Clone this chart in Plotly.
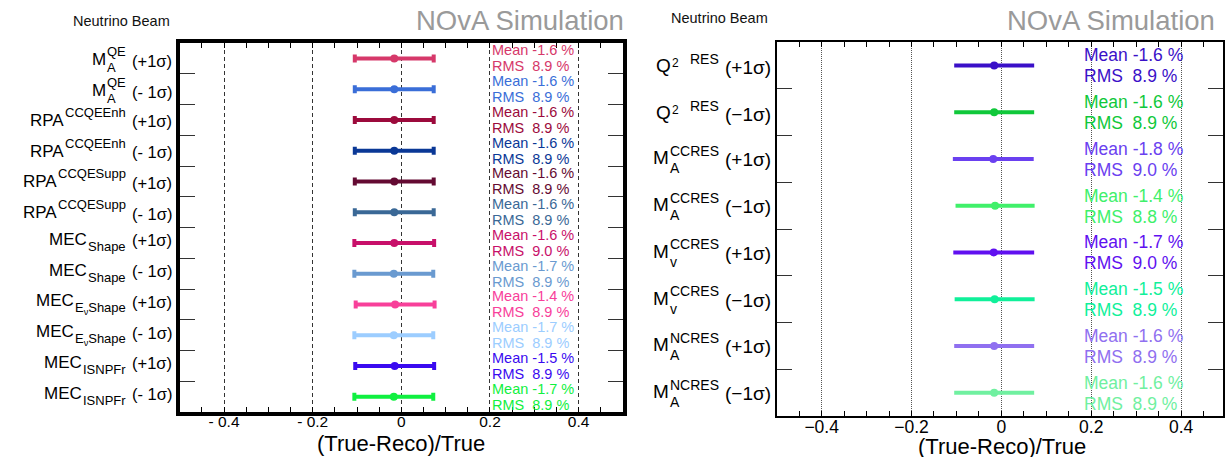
import re
import plotly.graph_objects as go

W, H = 1225, 457
FONT = "Liberation Sans, Arial, Helvetica, sans-serif"

# ---- left panel: CCQE / MEC knobs ----
left_base = ["M", "M", "RPA", "RPA", "RPA", "RPA", "MEC", "MEC", "MEC", "MEC", "MEC", "MEC"]
left_sup = ["QE", "QE", "CCQEEnh", "CCQEEnh", "CCQESupp", "CCQESupp", "", "", "", "", "", ""]
left_sub = ["A", "A", "", "", "", "", "Shape", "Shape",
            "E<sub>ν</sub>Shape", "E<sub>ν</sub>Shape", "ISNPFr", "ISNPFr"]
left_shift = ["(+1σ)", "(- 1σ)"] * 6
left_mean = [-1.6, -1.6, -1.6, -1.6, -1.6, -1.6, -1.6, -1.7, -1.4, -1.7, -1.5, -1.7]
left_rms = [8.9, 8.9, 8.9, 8.9, 8.9, 8.9, 9.0, 8.9, 8.9, 8.9, 8.9, 8.9]
left_colors = ["#d6386a", "#3a6ed8", "#9c0a3c", "#0a3896", "#640a32", "#3a6896",
               "#c8106a", "#6a9ad0", "#f8409a", "#9ccdff", "#3a0af0", "#10f040"]

# ---- right panel: resonant knobs ----
right_base = ["Q", "Q", "M", "M", "M", "M", "M", "M"]
right_base_sup = ["2", "2", "", "", "", "", "", ""]
right_sup = ["RES", "RES", "CCRES", "CCRES", "CCRES", "CCRES", "NCRES", "NCRES"]
right_sub = ["", "", "A", "A", "v", "v", "A", "A"]
right_shift = ["(+1σ)", "(−1σ)"] * 4
right_mean = [-1.6, -1.6, -1.8, -1.4, -1.7, -1.5, -1.6, -1.6]
right_rms = [8.9, 8.9, 9.0, 8.8, 9.0, 8.9, 8.9, 8.9]
right_colors = ["#3a10c8", "#10c83a", "#6a40f0", "#40f06a",
                "#6010f0", "#10f09a", "#9070f0", "#70f0a0"]

x_tickvals = [-0.4, -0.2, 0, 0.2, 0.4]
left_ticktext = ["- 0.4", "- 0.2", "0", "0.2", "0.4"]
right_ticktext = ["−0.4", "−0.2", "0", "0.2", "0.4"]

# Arial / Liberation Sans advance widths (1/1000 em)
ADV = dict(zip("ABCDEFGHIJKLMNOPQRSTUVWXYZ",
               [667, 667, 722, 722, 667, 611, 778, 722, 278, 500, 667, 556, 833,
                722, 778, 667, 778, 722, 667, 611, 722, 667, 944, 667, 667, 611]))
ADV.update(zip("abcdefghijklmnopqrstuvwxyz",
               [556, 556, 500, 556, 556, 278, 556, 556, 222, 222, 500, 222, 833,
                556, 556, 556, 556, 333, 500, 278, 556, 500, 722, 500, 500, 500]))
ADV.update({" ": 278, "ν": 500})


def text_width(s, size):
    total = 0.0
    for part in re.split(r"(<sub>.*?</sub>)", s):
        if part.startswith("<sub>"):
            inner = part[5:-6]
            total += sum(ADV.get(c, 556) for c in inner) * size * 0.7 / 1000
        else:
            total += sum(ADV.get(c, 556) for c in part) * size / 1000
    return total


def px(x):
    return x / W


def py(y):
    return 1 - y / H


def ann(text, x, y, size, color="black", xanchor="left", xref="paper", yref="paper",
        yshift=0):
    return dict(text=text, x=x, y=y, xref=xref, yref=yref, xanchor=xanchor,
                yanchor="middle", showarrow=False, yshift=yshift, borderpad=0,
                borderwidth=0, font=dict(family=FONT, size=size, color=color))


annotations = []


def row_labels(yref, bases, base_sups, sups, subs, shifts, cfg):
    for i, (b, bs, sp, sb, sh) in enumerate(zip(bases, base_sups, sups, subs, shifts)):
        yc = i + 0.5
        if sp and sb:
            off = cfg["both"]
        elif sp:
            off = cfg["sup_only"]
        else:
            off = cfg["sub_only"]
        w_script = max(text_width(sp, cfg["script"]), text_width(sb, cfg["script"]))
        s0 = cfg["script_end"] - w_script
        if sp:
            annotations.append(ann(sp, px(s0), yc, cfg["script"], yref=yref,
                                   yshift=-(off + cfg["sup_dy"])))
        if sb:
            annotations.append(ann(sb, px(s0), yc, cfg["script"], yref=yref,
                                   yshift=-(off + cfg["sub_dy"])))
        base_right = s0 - 1
        if bs:
            bs_right = s0 - 11
            bs_left = bs_right - text_width(bs, cfg["base_sup"])
            annotations.append(ann(bs, px(bs_left), yc, cfg["base_sup"], yref=yref,
                                   yshift=-(off - 3)))
            base_right = bs_left - 1
        annotations.append(ann(b, px(base_right), yc, cfg["base"], xanchor="right",
                               yref=yref, yshift=-off))
        annotations.append(ann(sh, px(cfg["suffix_x"]), yc, cfg["suffix"], yref=yref,
                               yshift=-cfg["suffix_dy"] - off))


row_labels("y", left_base, [""] * len(left_base), left_sup, left_sub, left_shift,
           dict(script_end=126, suffix_x=132, base=17, script=13, base_sup=12,
                suffix=16.5, both=1.5, sup_only=0.5, sub_only=-3.5,
                sup_dy=-8, sub_dy=7.5, suffix_dy=1))
row_labels("y2", right_base, right_base_sup, right_sup, right_sub, right_shift,
           dict(script_end=720, suffix_x=726, base=19, script=14, base_sup=12,
                suffix=19, both=-1, sup_only=0.5, sub_only=0,
                sup_dy=-7, sub_dy=10.5, suffix_dy=2))

fig = go.Figure()

for i, (m, r, c) in enumerate(zip(left_mean, left_rms, left_colors)):
    fig.add_trace(go.Scatter(
        x=[m / 100], y=[i + 0.5], mode="markers", xaxis="x", yaxis="y",
        marker=dict(color=c, size=8),
        error_x=dict(type="data", array=[r / 100], color=c, thickness=4, width=4)))
    annotations.append(ann(f"Mean {m:.1f} %", 0.204, i + 0.5, 14.5, c,
                           xref="x", yref="y", yshift=8))
    annotations.append(ann(f"RMS\u00a0 {r:.1f} %", 0.204, i + 0.5, 14.5, c,
                           xref="x", yref="y", yshift=-8))

for i, (m, r, c) in enumerate(zip(right_mean, right_rms, right_colors)):
    fig.add_trace(go.Scatter(
        x=[m / 100], y=[i + 0.5], mode="markers", xaxis="x2", yaxis="y2",
        marker=dict(color=c, size=8),
        error_x=dict(type="data", array=[r / 100], color=c, thickness=4, width=0)))
    annotations.append(ann(f"Mean {m:.1f} %", 0.184, i + 0.5, 17.5, c,
                           xref="x2", yref="y2", yshift=10))
    annotations.append(ann(f"RMS\u00a0 {r:.1f} %", 0.184, i + 0.5, 17.5, c,
                           xref="x2", yref="y2", yshift=-11))

# headers and axis titles
annotations += [
    ann("Neutrino Beam", px(73), py(21), 14.5, "#111"),
    ann("Neutrino Beam", px(672), py(18), 14.5, "#111"),
    ann("NOvA Simulation", px(625), py(20), 27.5, "#9a9a9a", xanchor="right"),
    ann("NOvA Simulation", px(1009), py(20), 27.5, "#9a9a9a"),
    ann("(True-Reco)/True", px(402), py(443), 22, xanchor="center"),
    ann("(True-Reco)/True", px(1004), py(446), 22, xanchor="center"),
]


def xaxis_cfg(domain, rng, ticktext, lw, griddash, gridcolor, fsize, standoff):
    return dict(domain=domain, range=rng, tickmode="array", tickvals=x_tickvals,
                ticktext=ticktext, ticks="inside", ticklen=5, tickwidth=1,
                tickcolor="black", showline=True, linecolor="black", linewidth=lw,
                mirror="ticks", showgrid=True, gridcolor=gridcolor, gridwidth=1,
                griddash=griddash, zeroline=False, fixedrange=True,
                ticklabelstandoff=standoff,
                tickfont=dict(family=FONT, size=fsize, color="black"),
                minor=dict(ticks="inside", ticklen=5, tickwidth=1, tickcolor="black",
                           dtick=0.05, tick0=0, showgrid=False))


def yaxis_cfg(domain, n, lw, anchor):
    return dict(domain=domain, range=[n, 0], tickmode="array",
                tickvals=list(range(1, n)), ticks="inside", ticklen=15, tickwidth=1,
                tickcolor="#333", showticklabels=False, showline=True,
                linecolor="black", linewidth=lw, mirror="ticks", showgrid=False,
                zeroline=False, anchor=anchor, fixedrange=True)


fig.update_layout(
    width=W, height=H, autosize=False,
    margin=dict(l=0, r=0, t=0, b=0, pad=0),
    paper_bgcolor="white", plot_bgcolor="white", showlegend=False,
    xaxis=xaxis_cfg([px(180), px(624)], [-0.5, 0.5], left_ticktext, 4,
                    "4px,3px", "#333", 15.5, -8) | dict(anchor="y"),
    yaxis=yaxis_cfg([py(412), py(43)], len(left_base), 4, "x"),
    xaxis2=xaxis_cfg([px(778), 1.0], [-0.5, 0.4933], right_ticktext, 2,
                     "1px,1px", "#555", 17.5, -6) | dict(anchor="y2"),
    yaxis2=yaxis_cfg([py(416), py(42)], len(right_base), 2, "x2"),
    annotations=annotations,
)

fig.write_html("out.html")
